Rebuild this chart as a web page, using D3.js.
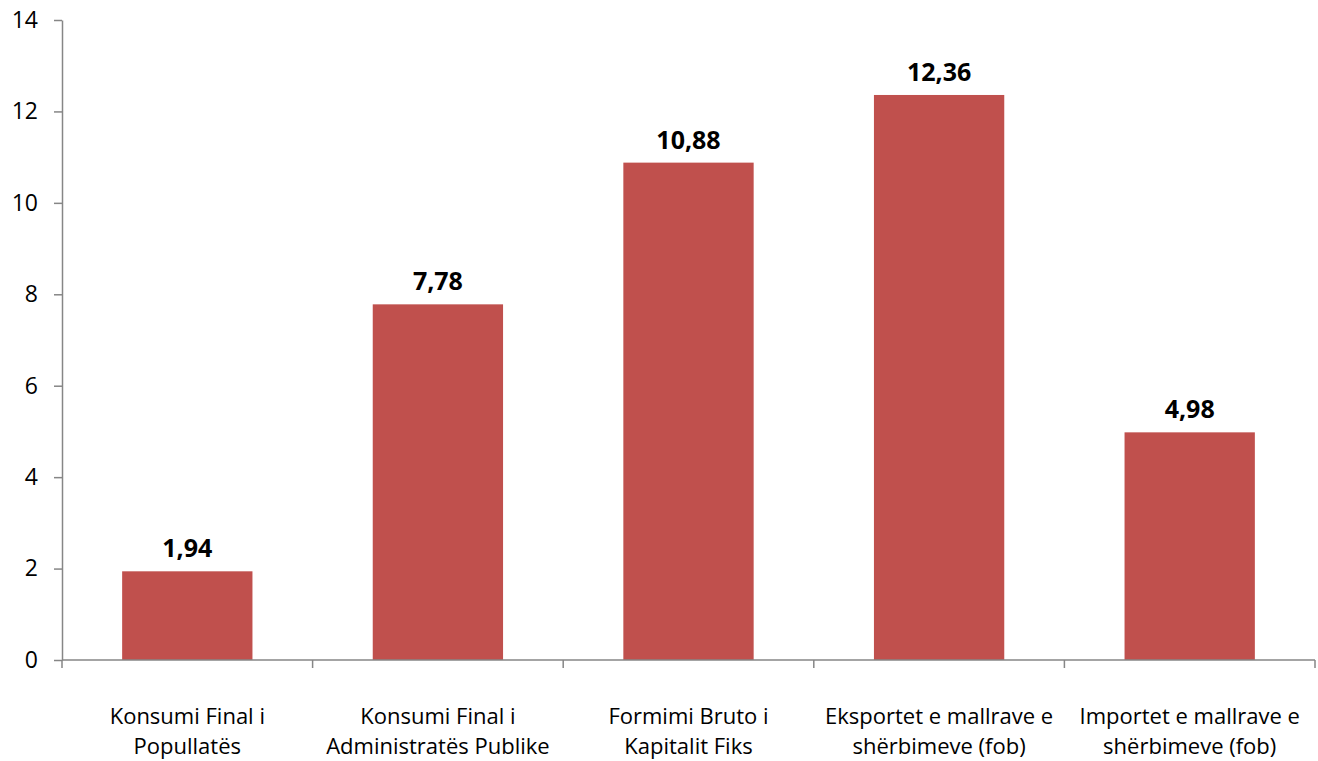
<!DOCTYPE html>
<html lang="en">

<head>
  <meta charset="UTF-8" />
  <script src="https://d3js.org/d3.v7.min.js"></script>
  <title>Bar Chart</title>
  <style>
    body { margin: 0; background: #fff; }
    text { font-family: "Open Sans", sans-serif; }
  </style>
</head>

<body>
  <svg width="1318" height="761"></svg>

  <script>
    // Data
    const categories = [
      ["Konsumi Final i", "Popullatës"],
      ["Konsumi Final i", "Administratës Publike"],
      ["Formimi Bruto i", "Kapitalit Fiks"],
      ["Eksportet e mallrave e", "shërbimeve (fob)"],
      ["Importet e mallrave e", "shërbimeve (fob)"]
    ];
    const values = [1.94, 7.78, 10.88, 12.36, 4.98];
    const yTicks = [0, 2, 4, 6, 8, 10, 12, 14];

    const svg = d3.select("svg");
    const margin = { top: 20, right: 3, bottom: 101, left: 62 };
    const width = 1318 - margin.left - margin.right;
    const height = 761 - margin.top - margin.bottom;

    const chart = svg.append("g")
      .attr("transform", `translate(${margin.left},${margin.top})`);

    const idx = categories.map((d, i) => i);

    // band scale for the bars
    const xScale = d3.scaleBand()
      .domain(idx)
      .range([0, width])
      .paddingInner(0.48)
      .paddingOuter(0.24);

    // plain band scale for the category slots (ticks sit between them)
    const slot = d3.scaleBand().domain(idx).range([0, width]);

    const yScale = d3.scaleLinear()
      .domain([0, 14])
      .range([height, 0]);

    const axisColor = "#868686";

    // Bars
    chart.selectAll("rect.bar")
      .data(values)
      .enter()
      .append("rect")
      .attr("class", "bar")
      .attr("x", (d, i) => xScale(i))
      .attr("y", d => yScale(d))
      .attr("width", xScale.bandwidth())
      .attr("height", d => height - yScale(d))
      .attr("fill", "#C0504D");

    // Value labels
    chart.selectAll("text.val")
      .data(values)
      .enter()
      .append("text")
      .attr("class", "val")
      .attr("x", (d, i) => xScale(i) + xScale.bandwidth() / 2)
      .attr("y", d => yScale(d) - 14)
      .attr("text-anchor", "middle")
      .attr("font-size", 25)
      .attr("font-weight", "bold")
      .attr("fill", "#000")
      .text(d => d.toFixed(2).replace(".", ","));

    // Y axis
    const yAxis = chart.append("g")
      .call(d3.axisLeft(yScale).tickValues(yTicks).tickSize(8).tickPadding(16).tickSizeOuter(0));
    yAxis.select(".domain").attr("stroke", axisColor).attr("stroke-width", 1.5);
    yAxis.selectAll(".tick line").attr("stroke", axisColor).attr("stroke-width", 1.5);
    yAxis.selectAll(".tick text").attr("font-size", 23).attr("fill", "#000")
      .style("font-family", "'Open Sans', sans-serif");

    // X axis line + ticks at slot boundaries
    const xAxis = chart.append("g").attr("transform", `translate(0,${height})`);
    xAxis.append("line")
      .attr("x1", 0).attr("x2", width)
      .attr("stroke", axisColor).attr("stroke-width", 1.5);
    const bounds = idx.map(i => slot(i)).concat([width]);
    xAxis.selectAll("line.tk")
      .data(bounds)
      .enter()
      .append("line")
      .attr("class", "tk")
      .attr("x1", d => d).attr("x2", d => d)
      .attr("y1", 0).attr("y2", 8)
      .attr("stroke", axisColor).attr("stroke-width", 1.5);

    // Category labels
    const labels = xAxis.selectAll("text.cat")
      .data(categories)
      .enter()
      .append("text")
      .attr("class", "cat")
      .attr("text-anchor", "middle")
      .attr("font-size", 22)
      .attr("fill", "#000")
      .attr("transform", (d, i) => `translate(${slot(i) + slot.bandwidth() / 2},0)`);
    labels.selectAll("tspan")
      .data(d => d)
      .enter()
      .append("tspan")
      .attr("x", 0)
      .attr("y", (d, j) => 64 + j * 30)
      .text(d => d);
  </script>
</body>

</html>
